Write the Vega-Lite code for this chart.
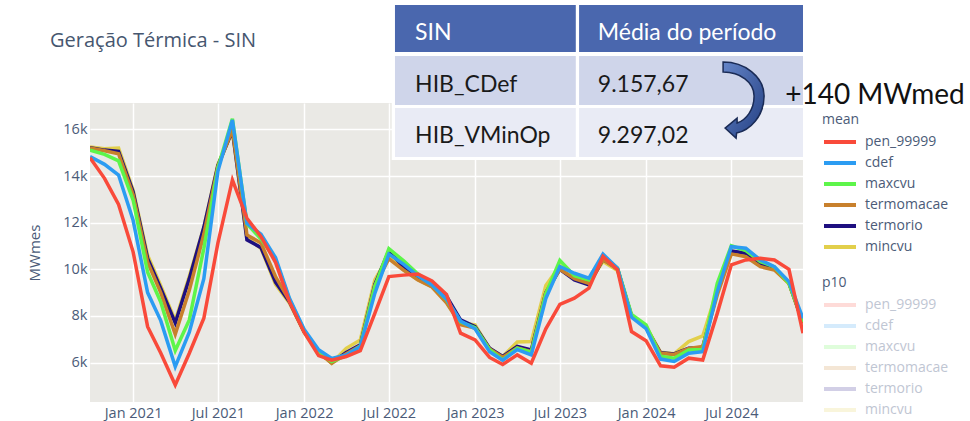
{
"$schema": "https://vega.github.io/schema/vega-lite/v6.json",
"width": 713, "height": 299,
"autosize": {"type": "none"},
"padding": {"left": 90, "top": 103, "right": 167, "bottom": 19},
"background": "white",
"data": {"values": [{}]},
"title": {"text": "Geração Térmica - SIN", "anchor": "start", "frame": "group", "dx": -40, "offset": 0, "dy": 65, "baseline": "alphabetic", "fontSize": 20, "font": "Open Sans", "fontWeight": "normal", "color": "#46566f"},
"config": {
  "view": {"fill": "#eae9e5", "stroke": null},
  "font": "Open Sans",
  "axis": {"domain": false, "ticks": false, "gridColor": "#ffffff", "gridWidth": 1.5, "labelFont": "Open Sans", "labelFontSize": 14.5, "labelColor": "#4b5b78", "titleFont": "Open Sans", "titleFontSize": 15, "titleFontWeight": "normal", "titleColor": "#4b5b78"},
  "legend": {"orient": "none", "symbolType": "stroke", "symbolSize": 1024, "symbolStrokeWidth": 4, "clipHeight": 16, "rowPadding": 5, "labelOffset": 7, "padding": 0, "titlePadding": 7, "labelFont": "Open Sans", "labelFontSize": 14, "titleFont": "Open Sans", "titleFontSize": 14, "titleFontWeight": "normal", "titleColor": "#4b5b78", "labelColor": "#4b5b78"}
},
"resolve": {"scale": {"color": "independent"}, "legend": {"color": "independent"}},
"layer": [
{
  "data": {"values": [
{"d":"2020-10","pen_99999":14780,"cdef":14830,"maxcvu":15110,"termomacae":15200,"termorio":15210,"mincvu":15240},
{"d":"2020-11","pen_99999":13900,"cdef":14500,"maxcvu":14930,"termomacae":15080,"termorio":15110,"mincvu":15170},
{"d":"2020-12","pen_99999":12780,"cdef":14040,"maxcvu":14650,"termomacae":14950,"termorio":15060,"mincvu":15200},
{"d":"2021-01","pen_99999":10750,"cdef":12100,"maxcvu":12970,"termomacae":13200,"termorio":13330,"mincvu":13400},
{"d":"2021-02","pen_99999":7540,"cdef":9000,"maxcvu":9870,"termomacae":10300,"termorio":10470,"mincvu":10600},
{"d":"2021-03","pen_99999":6410,"cdef":7800,"maxcvu":8600,"termomacae":9000,"termorio":9180,"mincvu":9300},
{"d":"2021-04","pen_99999":5040,"cdef":5830,"maxcvu":6520,"termomacae":7220,"termorio":7700,"mincvu":7800},
{"d":"2021-05","pen_99999":6400,"cdef":7300,"maxcvu":7830,"termomacae":9100,"termorio":9600,"mincvu":9700},
{"d":"2021-06","pen_99999":7900,"cdef":9600,"maxcvu":10900,"termomacae":11500,"termorio":11800,"mincvu":11800},
{"d":"2021-07","pen_99999":11120,"cdef":14200,"maxcvu":14350,"termomacae":14400,"termorio":14450,"mincvu":14500},
{"d":"2021-08","pen_99999":13830,"cdef":16400,"maxcvu":16450,"termomacae":16000,"termorio":15950,"mincvu":15900},
{"d":"2021-09","pen_99999":12190,"cdef":11970,"maxcvu":11950,"termomacae":11470,"termorio":11260,"mincvu":11350},
{"d":"2021-10","pen_99999":11400,"cdef":11500,"maxcvu":11300,"termomacae":11130,"termorio":10930,"mincvu":10900},
{"d":"2021-11","pen_99999":10300,"cdef":10500,"maxcvu":10420,"termomacae":9690,"termorio":9450,"mincvu":9350},
{"d":"2021-12","pen_99999":8600,"cdef":8750,"maxcvu":8700,"termomacae":8650,"termorio":8600,"mincvu":8550},
{"d":"2022-01","pen_99999":7300,"cdef":7430,"maxcvu":7380,"termomacae":7350,"termorio":7330,"mincvu":7300},
{"d":"2022-02","pen_99999":6300,"cdef":6550,"maxcvu":6480,"termomacae":6450,"termorio":6450,"mincvu":6420},
{"d":"2022-03","pen_99999":6100,"cdef":6180,"maxcvu":6050,"termomacae":5970,"termorio":6000,"mincvu":5980},
{"d":"2022-04","pen_99999":6260,"cdef":6330,"maxcvu":6300,"termomacae":6380,"termorio":6430,"mincvu":6610},
{"d":"2022-05","pen_99999":6510,"cdef":6690,"maxcvu":6700,"termomacae":6720,"termorio":6760,"mincvu":6970},
{"d":"2022-06","pen_99999":8110,"cdef":8970,"maxcvu":9260,"termomacae":9300,"termorio":9350,"mincvu":9540},
{"d":"2022-07","pen_99999":9690,"cdef":10650,"maxcvu":10880,"termomacae":10450,"termorio":10800,"mincvu":10600},
{"d":"2022-08","pen_99999":9750,"cdef":10220,"maxcvu":10370,"termomacae":9970,"termorio":10100,"mincvu":10000},
{"d":"2022-09","pen_99999":9800,"cdef":9720,"maxcvu":9800,"termomacae":9540,"termorio":9650,"mincvu":9550},
{"d":"2022-10","pen_99999":9500,"cdef":9330,"maxcvu":9350,"termomacae":9240,"termorio":9300,"mincvu":9250},
{"d":"2022-11","pen_99999":8920,"cdef":8720,"maxcvu":8700,"termomacae":8560,"termorio":8850,"mincvu":8600},
{"d":"2022-12","pen_99999":7260,"cdef":7780,"maxcvu":7750,"termomacae":7620,"termorio":7830,"mincvu":7700},
{"d":"2023-01","pen_99999":6970,"cdef":7450,"maxcvu":7500,"termomacae":7480,"termorio":7540,"mincvu":7620},
{"d":"2023-02","pen_99999":6220,"cdef":6470,"maxcvu":6550,"termomacae":6580,"termorio":6620,"mincvu":6600},
{"d":"2023-03","pen_99999":5920,"cdef":6100,"maxcvu":6120,"termomacae":6230,"termorio":6260,"mincvu":6260},
{"d":"2023-04","pen_99999":6330,"cdef":6560,"maxcvu":6620,"termomacae":6630,"termorio":6690,"mincvu":6880},
{"d":"2023-05","pen_99999":5970,"cdef":6330,"maxcvu":6450,"termomacae":6470,"termorio":6540,"mincvu":6900},
{"d":"2023-06","pen_99999":7450,"cdef":8750,"maxcvu":8950,"termomacae":9000,"termorio":9000,"mincvu":9300},
{"d":"2023-07","pen_99999":8500,"cdef":10120,"maxcvu":10380,"termomacae":10000,"termorio":10000,"mincvu":10150},
{"d":"2023-08","pen_99999":8760,"cdef":9830,"maxcvu":9720,"termomacae":9600,"termorio":9540,"mincvu":9650},
{"d":"2023-09","pen_99999":9190,"cdef":9620,"maxcvu":9540,"termomacae":9400,"termorio":9330,"mincvu":9420},
{"d":"2023-10","pen_99999":10550,"cdef":10650,"maxcvu":10550,"termomacae":10420,"termorio":10420,"mincvu":10330},
{"d":"2023-11","pen_99999":9980,"cdef":10050,"maxcvu":10050,"termomacae":10000,"termorio":10030,"mincvu":9950},
{"d":"2023-12","pen_99999":7330,"cdef":7940,"maxcvu":8060,"termomacae":8000,"termorio":8000,"mincvu":8020},
{"d":"2024-01","pen_99999":6940,"cdef":7460,"maxcvu":7620,"termomacae":7520,"termorio":7500,"mincvu":7550},
{"d":"2024-02","pen_99999":5860,"cdef":6150,"maxcvu":6270,"termomacae":6400,"termorio":6420,"mincvu":6440},
{"d":"2024-03","pen_99999":5800,"cdef":6050,"maxcvu":6190,"termomacae":6350,"termorio":6370,"mincvu":6380},
{"d":"2024-04","pen_99999":6190,"cdef":6400,"maxcvu":6540,"termomacae":6610,"termorio":6620,"mincvu":6900},
{"d":"2024-05","pen_99999":6110,"cdef":6470,"maxcvu":6560,"termomacae":6690,"termorio":6650,"mincvu":7140},
{"d":"2024-06","pen_99999":8110,"cdef":9040,"maxcvu":9400,"termomacae":8900,"termorio":9050,"mincvu":9110},
{"d":"2024-07","pen_99999":10190,"cdef":10970,"maxcvu":11010,"termomacae":10660,"termorio":10790,"mincvu":10720},
{"d":"2024-08","pen_99999":10400,"cdef":10900,"maxcvu":10800,"termomacae":10540,"termorio":10690,"mincvu":10600},
{"d":"2024-09","pen_99999":10470,"cdef":10400,"maxcvu":10330,"termomacae":10110,"termorio":10260,"mincvu":10150},
{"d":"2024-10","pen_99999":10400,"cdef":10110,"maxcvu":10100,"termomacae":9970,"termorio":10030,"mincvu":9990},
{"d":"2024-11","pen_99999":10000,"cdef":9470,"maxcvu":9400,"termomacae":9400,"termorio":9420,"mincvu":9380},
{"d":"2024-12","pen_99999":7260,"cdef":7900,"maxcvu":7750,"termomacae":7690,"termorio":7700,"mincvu":7700}
  ], "format": {"parse": {"d": "date:'%Y-%m'"}}},
  "transform": [{"fold": ["mincvu", "termorio", "termomacae", "maxcvu", "cdef", "pen_99999"], "as": ["s", "v"]}],
  "mark": {"type": "line", "strokeWidth": 3.5, "clip": true},
  "encoding": {
    "x": {"field": "d", "type": "temporal", "title": null,
      "scale": {"domain": [{"year": 2020, "month": 10, "date": 1}, {"year": 2024, "month": 12, "date": 1}]},
      "axis": {"values": [{"year": 2021, "month": 1, "date": 1}, {"year": 2021, "month": 7, "date": 1}, {"year": 2022, "month": 1, "date": 1}, {"year": 2022, "month": 7, "date": 1}, {"year": 2023, "month": 1, "date": 1}, {"year": 2023, "month": 7, "date": 1}, {"year": 2024, "month": 1, "date": 1}, {"year": 2024, "month": 7, "date": 1}], "format": "%b %Y", "labelPadding": 4, "labelOverlap": false, "labelFlush": false}},
    "y": {"field": "v", "type": "quantitative", "title": "MWmes",
      "scale": {"domain": [4310, 17130], "nice": false, "zero": false},
      "axis": {"values": [6000, 8000, 10000, 12000, 14000, 16000], "format": "~s", "labelPadding": 3, "titlePadding": 20}},
    "color": {"field": "s", "type": "nominal",
      "scale": {"domain": ["pen_99999", "cdef", "maxcvu", "termomacae", "termorio", "mincvu"], "range": ["#f94a3a", "#2b9cf2", "#5df54a", "#c8802c", "#1e0f80", "#e2cf4b"]},
      "legend": {"title": "mean", "legendX": 732, "legendY": 10}}
  }
},
{
  "data": {"values": [{"s": "pen_99999"}, {"s": "cdef"}, {"s": "maxcvu"}, {"s": "termomacae"}, {"s": "termorio"}, {"s": "mincvu"}]},
  "mark": {"type": "line", "strokeWidth": 3.5},
  "encoding": {
    "x": {"field": "d", "type": "temporal"},
    "y": {"field": "v", "type": "quantitative"},
    "color": {"field": "s", "type": "nominal",
      "scale": {"domain": ["pen_99999", "cdef", "maxcvu", "termomacae", "termorio", "mincvu"], "range": ["#fedbd8", "#d5ebfc", "#dffddb", "#f4e6d5", "#d2cfe6", "#f9f5db"]},
      "legend": {"title": "p10", "legendX": 732, "legendY": 173, "labelColor": "#bfc6d3"}}
  }
},
{"mark": {"type": "rect", "color": "#ffffff"}, "encoding": {"x": {"datum": {"year": 2022, "month": 7, "date": 7}, "type": "temporal"}, "x2": {"datum": {"year": 2024, "month": 12, "date": 1}}, "y": {"datum": 21456, "type": "quantitative"}, "y2": {"datum": 14684}}},
{"mark": {"type": "rect", "color": "#4a67ae"}, "encoding": {"x": {"datum": {"year": 2022, "month": 7, "date": 14}, "type": "temporal"}, "x2": {"datum": {"year": 2023, "month": 8, "date": 4}}, "y": {"datum": 21327, "type": "quantitative"}, "y2": {"datum": 19313}}},
{"mark": {"type": "rect", "color": "#4a67ae"}, "encoding": {"x": {"datum": {"year": 2023, "month": 8, "date": 11}, "type": "temporal"}, "x2": {"datum": {"year": 2024, "month": 12, "date": 1}}, "y": {"datum": 21327, "type": "quantitative"}, "y2": {"datum": 19313}}},
{"mark": {"type": "rect", "color": "#cfd5ea"}, "encoding": {"x": {"datum": {"year": 2022, "month": 7, "date": 14}, "type": "temporal"}, "x2": {"datum": {"year": 2023, "month": 8, "date": 4}}, "y": {"datum": 19142, "type": "quantitative"}, "y2": {"datum": 17041}}},
{"mark": {"type": "rect", "color": "#cfd5ea"}, "encoding": {"x": {"datum": {"year": 2023, "month": 8, "date": 11}, "type": "temporal"}, "x2": {"datum": {"year": 2024, "month": 12, "date": 1}}, "y": {"datum": 19142, "type": "quantitative"}, "y2": {"datum": 17041}}},
{"mark": {"type": "rect", "color": "#e9ebf5"}, "encoding": {"x": {"datum": {"year": 2022, "month": 7, "date": 14}, "type": "temporal"}, "x2": {"datum": {"year": 2023, "month": 8, "date": 4}}, "y": {"datum": 16913, "type": "quantitative"}, "y2": {"datum": 14813}}},
{"mark": {"type": "rect", "color": "#e9ebf5"}, "encoding": {"x": {"datum": {"year": 2023, "month": 8, "date": 11}, "type": "temporal"}, "x2": {"datum": {"year": 2024, "month": 12, "date": 1}}, "y": {"datum": 16913, "type": "quantitative"}, "y2": {"datum": 14813}}},
{"mark": {"type": "text", "text": "SIN", "font": "Lato", "fontSize": 23, "color": "#ffffff", "align": "left", "baseline": "alphabetic"}, "encoding": {"x": {"datum": {"year": 2022, "month": 8, "date": 26}, "type": "temporal"}, "y": {"datum": 19827, "type": "quantitative"}}},
{"mark": {"type": "text", "text": "Média do período", "font": "Lato", "fontSize": 23, "color": "#ffffff", "align": "left", "baseline": "alphabetic"}, "encoding": {"x": {"datum": {"year": 2023, "month": 9, "date": 20}, "type": "temporal"}, "y": {"datum": 19827, "type": "quantitative"}}},
{"mark": {"type": "text", "text": "HIB_CDef", "font": "Lato", "fontSize": 23, "color": "#1a1a1a", "align": "left", "baseline": "alphabetic"}, "encoding": {"x": {"datum": {"year": 2022, "month": 8, "date": 26}, "type": "temporal"}, "y": {"datum": 17620, "type": "quantitative"}}},
{"mark": {"type": "text", "text": "9.157,67", "font": "Lato", "fontSize": 23, "color": "#1a1a1a", "align": "left", "baseline": "alphabetic"}, "encoding": {"x": {"datum": {"year": 2023, "month": 9, "date": 20}, "type": "temporal"}, "y": {"datum": 17620, "type": "quantitative"}}},
{"mark": {"type": "text", "text": "HIB_VMinOp", "font": "Lato", "fontSize": 23, "color": "#1a1a1a", "align": "left", "baseline": "alphabetic"}, "encoding": {"x": {"datum": {"year": 2022, "month": 8, "date": 26}, "type": "temporal"}, "y": {"datum": 15413, "type": "quantitative"}}},
{"mark": {"type": "text", "text": "9.297,02", "font": "Lato", "fontSize": 23, "color": "#1a1a1a", "align": "left", "baseline": "alphabetic"}, "encoding": {"x": {"datum": {"year": 2023, "month": 9, "date": 20}, "type": "temporal"}, "y": {"datum": 15413, "type": "quantitative"}}},
{"mark": {"type": "point", "shape": "M-0.472,0.889L-0.139,0.611L-0.139,0.75C0.111,0.667,0.333,0.389,0.333,0C0.333,-0.389,-0.056,-0.667,-0.528,-0.667L-0.528,-0.944C0.056,-0.944,0.611,-0.556,0.611,0C0.611,0.556,0.222,0.944,-0.153,1.028L-0.167,1.167Z", "size": 5184, "filled": true, "fill": {"gradient": "linear", "x1": 0, "y1": 0, "x2": 1, "y2": 1, "stops": [{"offset": 0, "color": "#6585c8"}, {"offset": 1, "color": "#233f82"}]}, "stroke": "#1a2b56", "strokeWidth": 1.5, "opacity": 1}, "encoding": {"x": {"datum": {"year": 2024, "month": 7, "date": 24}, "type": "temporal"}, "y": {"datum": 17427, "type": "quantitative"}}},
{"mark": {"type": "text", "text": "+140 MWmed", "font": "Lato", "fontSize": 28, "color": "#111111", "align": "left", "baseline": "alphabetic"}, "encoding": {"x": {"datum": {"year": 2024, "month": 10, "date": 24}, "type": "temporal"}, "y": {"datum": 17100, "type": "quantitative"}}}
]
}
